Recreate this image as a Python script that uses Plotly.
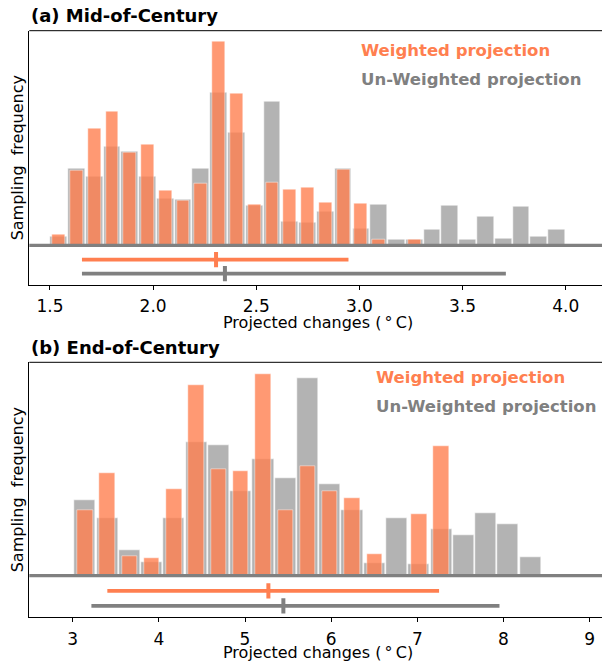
import numpy as np
import plotly.graph_objects as go

# ---------------- data ----------------
# (a) Mid-of-Century : histogram bins (deg C) and sampling frequencies (arbitrary units)
mid_edges = np.linspace(1.5, 4.0, 30)
mid_unweighted = [8.3, 76.3, 68.3, 98.3, 93.7, 68.3, 46.3, 45.3, 76.3, 152.3,
                  112.7, 39.3, 143.7, 24.0, 22.7, 34.0, 76.3, 16.7, 41.0, 5.3,
                  5.3, 15.3, 39.7, 5.3, 28.3, 6.7, 38.3, 8.3, 15.3]
mid_weighted = [10.3, 75.0, 116.7, 133.3, 92.7, 100.3, 54.3, 45.0, 61.7, 203.3,
                151.3, 40.3, 62.3, 55.3, 57.3, 42.7, 75.3, 41.3, 6.0, 0.0,
                5.3, 0.0, 0.0, 0.0, 0.0, 0.0, 0.0, 0.0, 0.0]
# range (low, high) and mean of each projection
mid_w_range = [1.655, 2.947]
mid_w_mean = 2.305
mid_u_range = [1.655, 3.71]
mid_u_mean = 2.348

# (b) End-of-Century
end_edges = np.linspace(3.015, 8.442, 22)
end_unweighted = [75.0, 57.7, 25.0, 13.7, 57.7, 133.3, 130.3, 84.0, 116.0, 97.0,
                  197.7, 91.0, 65.0, 12.0, 57.7, 11.0, 46.0, 40.0, 62.0, 51.7, 18.0]
end_weighted = [65.3, 102.7, 19.7, 17.7, 86.7, 190.7, 106.3, 104.7, 201.7, 65.3,
                109.3, 84.7, 77.7, 21.7, 0.0, 61.7, 129.7, 0.0, 0.0, 0.0, 0.0]
end_w_range = [3.402, 7.252]
end_w_mean = 5.271
end_u_range = [3.217, 7.953]
end_u_mean = 5.445

mid_ticks = [1.5, 2.0, 2.5, 3.0, 3.5, 4.0]
mid_ticktext = ["1.5", "2.0", "2.5", "3.0", "3.5", "4.0"]
end_ticks = [3, 4, 5, 6, 7, 8, 9]
end_ticktext = ["3", "4", "5", "6", "7", "8", "9"]

# ---------------- style ----------------
W, H = 602, 662
ORANGE = "#FF7F50"
GRAY = "#808080"
FONT = "DejaVu Sans"


def px_x(p):
    return p / W


def px_y(p):
    return 1 - p / H


fig = go.Figure()

panels = [
    dict(edges=mid_edges, u=mid_unweighted, w=mid_weighted,
         wr=mid_w_range, wm=mid_w_mean, ur=mid_u_range, um=mid_u_mean,
         xa="x", ya="y", top=30.7, bot=285.0, yr=[-39.7, 214.6],
         yl_w=-14.3, yl_u=-28.3, xr=[1.3997, 4.176],
         ticks=mid_ticks, ticktext=mid_ticktext, gw=0.94, ow=0.72,
         title="(a) Mid-of-Century", leg_x=360, leg_y=(50.7, 79.0), xlab_y=322.5),
    dict(edges=end_edges, u=end_unweighted, w=end_weighted,
         wr=end_w_range, wm=end_w_mean, ur=end_u_range, um=end_u_mean,
         xa="x2", ya="y2", top=362.3, bot=617.3, yr=[-41.7, 213.3],
         yl_w=-15.3, yl_u=-30.3, xr=[2.4963, 9.143],
         ticks=end_ticks, ticktext=end_ticktext, gw=0.95, ow=0.69,
         title="(b) End-of-Century", leg_x=375, leg_y=(377.0, 406.0), xlab_y=652.5),
]

annotations = []
shapes = []
L = 29.3

for i, p in enumerate(panels):
    edges = np.asarray(p["edges"])
    centers = (edges[:-1] + edges[1:]) / 2
    bw = edges[1] - edges[0]
    fig.add_trace(go.Bar(x=centers, y=p["u"], width=bw * p["gw"], xaxis=p["xa"], yaxis=p["ya"],
                         marker=dict(color="rgba(128,128,128,0.6)",
                                     line=dict(color="rgba(255,255,255,0.55)", width=1)),
                         showlegend=False, hoverinfo="x+y"))
    fig.add_trace(go.Bar(x=centers, y=p["w"], width=bw * p["ow"], xaxis=p["xa"], yaxis=p["ya"],
                         marker=dict(color="rgba(255,127,80,0.8)",
                                     line=dict(color="rgba(255,255,255,0.45)", width=1)),
                         showlegend=False, hoverinfo="x+y"))
    # range lines
    fig.add_trace(go.Scatter(x=p["wr"], y=[p["yl_w"]] * 2, mode="lines", xaxis=p["xa"], yaxis=p["ya"],
                             line=dict(color=ORANGE, width=3.6), showlegend=False, hoverinfo="skip"))
    fig.add_trace(go.Scatter(x=p["ur"], y=[p["yl_u"]] * 2, mode="lines", xaxis=p["xa"], yaxis=p["ya"],
                             line=dict(color=GRAY, width=3.6), showlegend=False, hoverinfo="skip"))
    # mean marks
    fig.add_trace(go.Scatter(x=[p["wm"]], y=[p["yl_w"]], mode="markers", xaxis=p["xa"], yaxis=p["ya"],
                             marker=dict(symbol="line-ns", size=11, line=dict(color=ORANGE, width=4)),
                             showlegend=False, hoverinfo="skip"))
    fig.add_trace(go.Scatter(x=[p["um"]], y=[p["yl_u"]], mode="markers", xaxis=p["xa"], yaxis=p["ya"],
                             marker=dict(symbol="line-ns", size=11, line=dict(color=GRAY, width=4)),
                             showlegend=False, hoverinfo="skip"))
    # baseline at zero
    shapes.append(dict(type="line", xref=p["xa"] + " domain", yref=p["ya"], x0=0, x1=1, y0=0, y1=0,
                       line=dict(color=GRAY, width=3.2), layer="above"))

    # title
    annotations.append(dict(text="<b>" + p["title"] + "</b>", xref="paper", yref="paper",
                            x=px_x(29.0), y=px_y(p["top"] - 2.5), xanchor="left", yanchor="bottom",
                            showarrow=False, font=dict(family=FONT, size=18, color="black")))
    # legend texts
    annotations.append(dict(text="<b>Weighted projection</b>", xref="paper", yref="paper",
                            x=px_x(p["leg_x"] - 1.5), y=px_y(p["leg_y"][0]), xanchor="left", yanchor="middle",
                            showarrow=False, font=dict(family=FONT, size=16.5, color=ORANGE)))
    annotations.append(dict(text="<b>Un-Weighted projection</b>", xref="paper", yref="paper",
                            x=px_x(p["leg_x"] - 1.5), y=px_y(p["leg_y"][1]), xanchor="left", yanchor="middle",
                            showarrow=False, font=dict(family=FONT, size=16.5, color=GRAY)))
    # axis labels
    annotations.append(dict(text="Projected changes (\u2009\u00b0\u2009C)", xref="paper", yref="paper",
                            x=px_x(318), y=px_y(p["xlab_y"]), xanchor="center", yanchor="middle",
                            showarrow=False, font=dict(family=FONT, size=16, color="black")))
    annotations.append(dict(text="Sampling\u00a0 frequency", xref="paper", yref="paper", textangle=-90,
                            x=px_x(17.5), y=px_y((p["top"] + p["bot"]) / 2), xanchor="center", yanchor="middle",
                            showarrow=False, font=dict(family=FONT, size=16, color="black")))

common_x = dict(showline=True, linecolor="black", linewidth=1, mirror=False, showgrid=False, zeroline=False,
                ticks="outside", ticklen=4, tickwidth=1, tickcolor="black", ticklabelstandoff=2,
                tickfont=dict(family=FONT, size=17, color="black"))
common_y = dict(showline=True, linecolor="black", linewidth=1, showgrid=False, zeroline=False,
                showticklabels=False, ticks="")

layout_axes = {}
for i, p in enumerate(panels):
    suffix = "" if i == 0 else "2"
    layout_axes["xaxis" + suffix] = dict(common_x, domain=[px_x(L), 1.0], range=p["xr"],
                                         tickvals=p["ticks"], ticktext=p["ticktext"],
                                         anchor="y" + suffix)
    layout_axes["yaxis" + suffix] = dict(common_y, domain=[px_y(p["bot"]), px_y(p["top"])], range=p["yr"],
                                         anchor="x" + suffix)
    # top spine
    shapes.append(dict(type="line", xref="paper", yref="paper", x0=px_x(L), x1=1.0,
                       y0=px_y(p["top"]), y1=px_y(p["top"]), line=dict(color="black", width=1)))

fig.update_layout(
    width=W, height=H, margin=dict(l=0, r=0, t=0, b=0),
    paper_bgcolor="white", plot_bgcolor="white",
    barmode="overlay", bargap=0,
    annotations=annotations, shapes=shapes,
    font=dict(family=FONT),
    **layout_axes,
)

fig.write_html("out.html")
